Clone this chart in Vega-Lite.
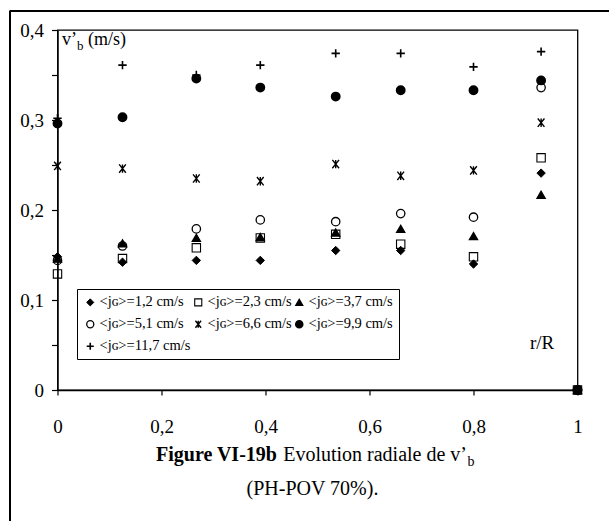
{
  "$schema": "https://vega.github.io/schema/vega-lite/v6.json",
  "width": 520,
  "height": 360,
  "autosize": {"type": "none"},
  "padding": {"left": 57.5, "top": 30, "right": 31.5, "bottom": 131},
  "background": "white",
  "config": {
    "font": "Liberation Serif",
    "view": {"stroke": "black", "strokeWidth": 1.3},
    "axis": {
      "domainColor": "black", "domainWidth": 1.3, "tickColor": "black", "tickWidth": 1.2,
      "labelColor": "black", "titleColor": "black", "labelFont": "Liberation Serif",
      "titleFont": "Liberation Serif", "grid": false, "titleFontWeight": "normal",
      "labelFontSize": 19, "titleFontSize": 19
    }
  },
  "title": {
    "text": "Figure VI-19b", "orient": "top", "anchor": "start", "frame": "group",
    "baseline": "alphabetic", "font": "Liberation Serif", "fontSize": 20, "fontWeight": "bold",
    "color": "black", "offset": 0, "dx": 98.5, "dy": 470
  },
  "datasets": {
    "pts": [
      {"r": 0, "v": 0.148, "series": "<jɢ>=1,2 cm/s"},
      {"r": 0.125, "v": 0.142, "series": "<jɢ>=1,2 cm/s"},
      {"r": 0.267, "v": 0.144, "series": "<jɢ>=1,2 cm/s"},
      {"r": 0.39, "v": 0.144, "series": "<jɢ>=1,2 cm/s"},
      {"r": 0.535, "v": 0.155, "series": "<jɢ>=1,2 cm/s"},
      {"r": 0.66, "v": 0.155, "series": "<jɢ>=1,2 cm/s"},
      {"r": 0.8, "v": 0.14, "series": "<jɢ>=1,2 cm/s"},
      {"r": 0.93, "v": 0.241, "series": "<jɢ>=1,2 cm/s"},
      {"r": 1, "v": 0, "series": "<jɢ>=1,2 cm/s"},
      {"r": 0, "v": 0.129, "series": "<jɢ>=2,3 cm/s"},
      {"r": 0.125, "v": 0.146, "series": "<jɢ>=2,3 cm/s"},
      {"r": 0.267, "v": 0.158, "series": "<jɢ>=2,3 cm/s"},
      {"r": 0.39, "v": 0.169, "series": "<jɢ>=2,3 cm/s"},
      {"r": 0.535, "v": 0.173, "series": "<jɢ>=2,3 cm/s"},
      {"r": 0.66, "v": 0.162, "series": "<jɢ>=2,3 cm/s"},
      {"r": 0.8, "v": 0.148, "series": "<jɢ>=2,3 cm/s"},
      {"r": 0.93, "v": 0.258, "series": "<jɢ>=2,3 cm/s"},
      {"r": 1, "v": 0, "series": "<jɢ>=2,3 cm/s"},
      {"r": 0, "v": 0.146, "series": "<jɢ>=3,7 cm/s"},
      {"r": 0.125, "v": 0.163, "series": "<jɢ>=3,7 cm/s"},
      {"r": 0.267, "v": 0.169, "series": "<jɢ>=3,7 cm/s"},
      {"r": 0.39, "v": 0.17, "series": "<jɢ>=3,7 cm/s"},
      {"r": 0.535, "v": 0.175, "series": "<jɢ>=3,7 cm/s"},
      {"r": 0.66, "v": 0.179, "series": "<jɢ>=3,7 cm/s"},
      {"r": 0.8, "v": 0.171, "series": "<jɢ>=3,7 cm/s"},
      {"r": 0.93, "v": 0.217, "series": "<jɢ>=3,7 cm/s"},
      {"r": 1, "v": 0, "series": "<jɢ>=3,7 cm/s"},
      {"r": 0, "v": 0.144, "series": "<jɢ>=5,1 cm/s"},
      {"r": 0.125, "v": 0.16, "series": "<jɢ>=5,1 cm/s"},
      {"r": 0.267, "v": 0.179, "series": "<jɢ>=5,1 cm/s"},
      {"r": 0.39, "v": 0.189, "series": "<jɢ>=5,1 cm/s"},
      {"r": 0.535, "v": 0.187, "series": "<jɢ>=5,1 cm/s"},
      {"r": 0.66, "v": 0.196, "series": "<jɢ>=5,1 cm/s"},
      {"r": 0.8, "v": 0.192, "series": "<jɢ>=5,1 cm/s"},
      {"r": 0.93, "v": 0.336, "series": "<jɢ>=5,1 cm/s"},
      {"r": 1, "v": 0, "series": "<jɢ>=5,1 cm/s"},
      {"r": 0, "v": 0.249, "series": "<jɢ>=6,6 cm/s"},
      {"r": 0.125, "v": 0.246, "series": "<jɢ>=6,6 cm/s"},
      {"r": 0.267, "v": 0.235, "series": "<jɢ>=6,6 cm/s"},
      {"r": 0.39, "v": 0.232, "series": "<jɢ>=6,6 cm/s"},
      {"r": 0.535, "v": 0.251, "series": "<jɢ>=6,6 cm/s"},
      {"r": 0.66, "v": 0.238, "series": "<jɢ>=6,6 cm/s"},
      {"r": 0.8, "v": 0.244, "series": "<jɢ>=6,6 cm/s"},
      {"r": 0.93, "v": 0.297, "series": "<jɢ>=6,6 cm/s"},
      {"r": 1, "v": 0, "series": "<jɢ>=6,6 cm/s"},
      {"r": 0, "v": 0.296, "series": "<jɢ>=9,9 cm/s"},
      {"r": 0.125, "v": 0.303, "series": "<jɢ>=9,9 cm/s"},
      {"r": 0.267, "v": 0.346, "series": "<jɢ>=9,9 cm/s"},
      {"r": 0.39, "v": 0.336, "series": "<jɢ>=9,9 cm/s"},
      {"r": 0.535, "v": 0.326, "series": "<jɢ>=9,9 cm/s"},
      {"r": 0.66, "v": 0.333, "series": "<jɢ>=9,9 cm/s"},
      {"r": 0.8, "v": 0.333, "series": "<jɢ>=9,9 cm/s"},
      {"r": 0.93, "v": 0.344, "series": "<jɢ>=9,9 cm/s"},
      {"r": 1, "v": 0, "series": "<jɢ>=9,9 cm/s"},
      {"r": 0, "v": 0.302, "series": "<jɢ>=11,7 cm/s"},
      {"r": 0.125, "v": 0.361, "series": "<jɢ>=11,7 cm/s"},
      {"r": 0.267, "v": 0.35, "series": "<jɢ>=11,7 cm/s"},
      {"r": 0.39, "v": 0.361, "series": "<jɢ>=11,7 cm/s"},
      {"r": 0.535, "v": 0.374, "series": "<jɢ>=11,7 cm/s"},
      {"r": 0.66, "v": 0.374, "series": "<jɢ>=11,7 cm/s"},
      {"r": 0.8, "v": 0.359, "series": "<jɢ>=11,7 cm/s"},
      {"r": 0.93, "v": 0.376, "series": "<jɢ>=11,7 cm/s"},
      {"r": 1, "v": 0, "series": "<jɢ>=11,7 cm/s"}
    ]
  },
  "data": {"name": "pts"},
  "layer": [
    {
      "mark": {"type": "point", "filled": true, "opacity": 1, "size": 70},
      "encoding": {
        "x": {
          "field": "r", "type": "quantitative",
          "scale": {"domain": [0, 1], "nice": false, "zero": false},
          "axis": {
            "orient": "bottom", "values": [0, 0.2, 0.4, 0.6, 0.8, 1],
            "labelExpr": "replace(format(datum.value, '.1~f'), '.', ',')",
            "tickSize": 5, "labelPadding": 22, "labelFlush": false,
            "title": "r/R", "titleX": 472, "titleY": -42, "titleAlign": "left",
            "titleBaseline": "alphabetic", "titleFontSize": 19
          }
        },
        "y": {
          "field": "v", "type": "quantitative",
          "scale": {"domain": [0, 0.4], "nice": false},
          "axis": {
            "orient": "left", "values": [0, 0.05, 0.1, 0.15, 0.2, 0.25, 0.3, 0.35, 0.4],
            "labelExpr": "round(datum.value * 100) % 10 == 0 ? replace(format(datum.value, '.1~f'), '.', ',') : ''",
            "tickSize": 6, "labelPadding": 8, "labelFlush": false, "labelOverlap": false,
            "title": "v’", "titleAngle": 0, "titleX": 4, "titleY": 14.5, "titleAlign": "left",
            "titleBaseline": "alphabetic", "titleFontSize": 18
          }
        },
        "shape": {
          "field": "series", "type": "nominal",
          "scale": {
            "domain": ["<jɢ>=1,2 cm/s", "<jɢ>=2,3 cm/s", "<jɢ>=3,7 cm/s", "<jɢ>=5,1 cm/s", "<jɢ>=6,6 cm/s", "<jɢ>=9,9 cm/s", "<jɢ>=11,7 cm/s"],
            "range": ["diamond", "square", "triangle-up", "circle", "M-0.8,-1L0.8,1M0.8,-1L-0.8,1M0,-1L0,1", "circle", "M-1,0L1,0M0,-1L0,1"]
          },
          "legend": {
            "title": null, "orient": "none", "legendX": 19.5, "legendY": 259, "columns": 3, "direction": "horizontal",
            "strokeColor": "black", "fillColor": "white", "padding": 6, "columnPadding": 0, "rowPadding": 7,
            "labelFont": "Liberation Serif", "labelFontSize": 14.5, "labelColor": "black", "labelOffset": 2,
            "symbolSize": 50, "symbolStrokeWidth": 1.5, "symbolOpacity": 1
          }
        },
        "fill": {
          "field": "series", "type": "nominal",
          "scale": {
            "domain": ["<jɢ>=1,2 cm/s", "<jɢ>=2,3 cm/s", "<jɢ>=3,7 cm/s", "<jɢ>=5,1 cm/s", "<jɢ>=6,6 cm/s", "<jɢ>=9,9 cm/s", "<jɢ>=11,7 cm/s"],
            "range": ["black", "transparent", "black", "transparent", "transparent", "black", "transparent"]
          },
          "legend": {
            "title": null, "orient": "none", "legendX": 19.5, "legendY": 259, "columns": 3, "direction": "horizontal",
            "strokeColor": "black", "fillColor": "white", "padding": 6, "columnPadding": 0, "rowPadding": 7,
            "labelFont": "Liberation Serif", "labelFontSize": 14.5, "labelColor": "black", "labelOffset": 2,
            "symbolSize": 50, "symbolStrokeWidth": 1.5, "symbolOpacity": 1
          }
        },
        "stroke": {
          "field": "series", "type": "nominal",
          "scale": {
            "domain": ["<jɢ>=1,2 cm/s", "<jɢ>=2,3 cm/s", "<jɢ>=3,7 cm/s", "<jɢ>=5,1 cm/s", "<jɢ>=6,6 cm/s", "<jɢ>=9,9 cm/s", "<jɢ>=11,7 cm/s"],
            "range": ["black", "black", "black", "black", "black", "black", "black"]
          },
          "legend": {
            "title": null, "orient": "none", "legendX": 19.5, "legendY": 259, "columns": 3, "direction": "horizontal",
            "strokeColor": "black", "fillColor": "white", "padding": 6, "columnPadding": 0, "rowPadding": 7,
            "labelFont": "Liberation Serif", "labelFontSize": 14.5, "labelColor": "black", "labelOffset": 2,
            "symbolSize": 50, "symbolStrokeWidth": 1.5, "symbolOpacity": 1
          }
        },
        "strokeWidth": {
          "field": "series", "type": "nominal",
          "scale": {
            "domain": ["<jɢ>=1,2 cm/s", "<jɢ>=2,3 cm/s", "<jɢ>=3,7 cm/s", "<jɢ>=5,1 cm/s", "<jɢ>=6,6 cm/s", "<jɢ>=9,9 cm/s", "<jɢ>=11,7 cm/s"],
            "range": [1, 1.6, 1, 1.7, 2.2, 1, 2.2]
          },
          "legend": null
        }
      }
    },
    {
      "mark": {"type": "point", "opacity": 0},
      "encoding": {
        "x": {
          "field": "r", "type": "quantitative",
          "scale": {"domain": [0, 1], "nice": false, "zero": false},
          "axis": {
            "orient": "top", "domain": false, "ticks": false, "labels": false,
            "title": "Evolution radiale de v’", "titleX": 225.2, "titleY": 430, "titleAlign": "left",
            "titleBaseline": "alphabetic", "titleFontSize": 20
          }
        },
        "y": {
          "field": "v", "type": "quantitative",
          "scale": {"domain": [0, 0.4], "nice": false},
          "axis": {
            "orient": "right", "domain": false, "ticks": false, "labels": false,
            "title": "(PH-POV 70%).", "titleAngle": 0, "titleX": -265.5, "titleY": 464, "titleAlign": "center",
            "titleBaseline": "alphabetic", "titleFontSize": 20
          }
        }
      }
    },
    {
      "mark": {"type": "point", "opacity": 0},
      "encoding": {
        "x": {
          "field": "r", "type": "quantitative",
          "scale": {"domain": [0, 1], "nice": false, "zero": false},
          "axis": {
            "orient": "bottom", "domain": false, "ticks": false, "labels": false,
            "title": "b", "titleX": 409.6, "titleY": 75, "titleAlign": "left",
            "titleBaseline": "alphabetic", "titleFontSize": 14
          }
        },
        "y": {
          "field": "v", "type": "quantitative",
          "scale": {"domain": [0, 0.4], "nice": false},
          "axis": {
            "orient": "left", "domain": false, "ticks": false, "labels": false,
            "title": "b", "titleAngle": 0, "titleX": 19, "titleY": 19, "titleAlign": "left",
            "titleBaseline": "alphabetic", "titleFontSize": 13
          }
        }
      }
    },
    {
      "mark": {"type": "point", "opacity": 0},
      "encoding": {
        "x": {"field": "r", "type": "quantitative", "scale": {"domain": [0, 1], "nice": false, "zero": false}, "axis": null},
        "y": {
          "field": "v", "type": "quantitative",
          "scale": {"domain": [0, 0.4], "nice": false},
          "axis": {
            "orient": "left", "domain": false, "ticks": false, "labels": false,
            "title": "(m/s)", "titleAngle": 0, "titleX": 30, "titleY": 14.5, "titleAlign": "left",
            "titleBaseline": "alphabetic", "titleFontSize": 18
          }
        }
      }
    },
    {
      "mark": {"type": "point", "opacity": 0},
      "encoding": {
        "x": {
          "field": "r", "type": "quantitative",
          "scale": {"domain": [0, 1], "nice": false, "zero": false, "range": [-48.5, 551.5]},
          "axis": {"orient": "top", "offset": 19.5, "domain": true, "domainWidth": 2, "ticks": false, "labels": false, "title": null}
        },
        "y": {
          "field": "v", "type": "quantitative",
          "scale": {"domain": [0, 0.4], "nice": false, "range": [491, -19.5]},
          "axis": {"orient": "left", "offset": 48, "domain": true, "domainWidth": 2, "ticks": false, "labels": false, "title": null}
        }
      }
    }
  ],
  "resolve": {
    "scale": {"x": "independent", "y": "independent"},
    "axis": {"x": "independent", "y": "independent"}
  }
}
